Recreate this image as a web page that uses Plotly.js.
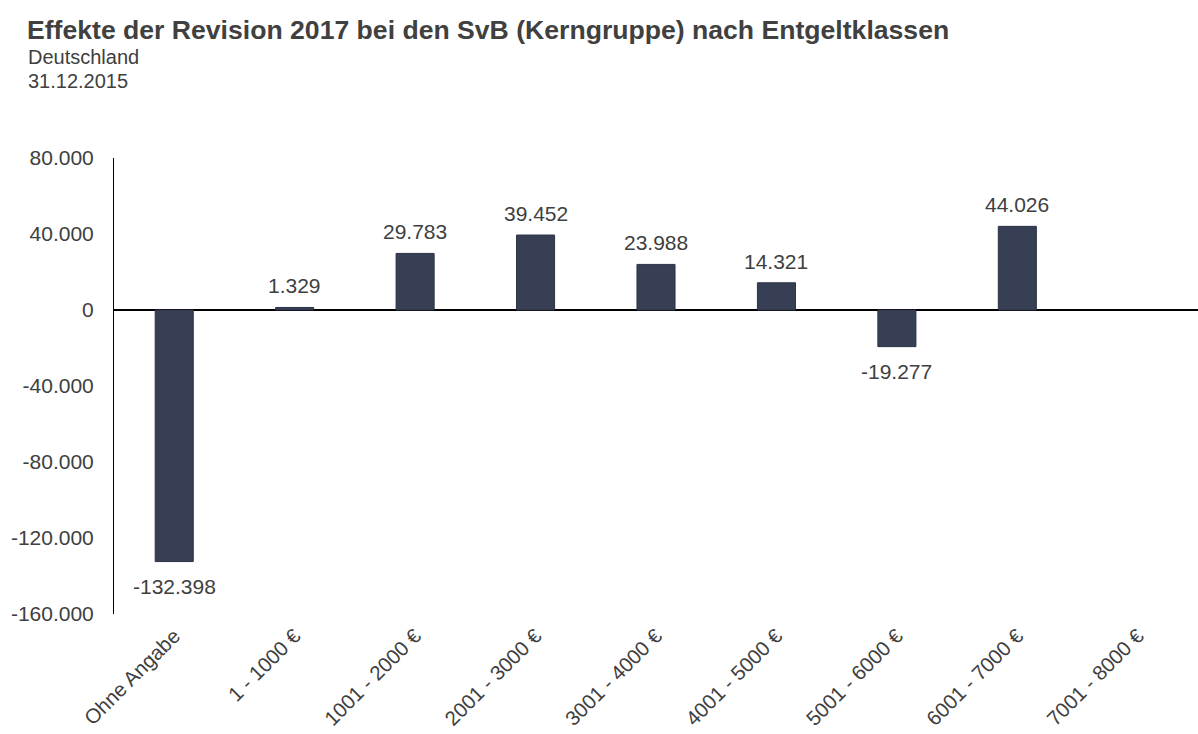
<!DOCTYPE html>
<html>
<head>
<meta charset="utf-8">
<script src="https://cdn.plot.ly/plotly-3.0.1.min.js"></script>
<style>html,body{margin:0;padding:0;background:#fff;}#chart{width:1198px;height:734px;}</style>
</head>
<body>
<div id="chart"></div>
<script>
const categories = ["Ohne Angabe", "1 - 1000 €", "1001 - 2000 €", "2001 - 3000 €", "3001 - 4000 €", "4001 - 5000 €", "5001 - 6000 €", "6001 - 7000 €", "7001 - 8000 €"];
const values = [-132398, 1329, 29783, 39452, 23988, 14321, -19277, 44026, null];
const yTicks = [-160000, -120000, -80000, -40000, 0, 40000, 80000];
const titleText = "Effekte der Revision 2017 bei den SvB (Kerngruppe) nach Entgeltklassen";
const subtitleLines = ["Deutschland", "31.12.2015"];

function fmt(v) {
  const s = Math.abs(v).toString().replace(/\B(?=(\d{3})+(?!\d))/g, ".");
  return (v < 0 ? "-" : "") + s;
}

const FONT = "Liberation Sans, Arial, sans-serif";
const TXT = "#404040";

const labelAnnotations = [];
categories.forEach((c, i) => {
  const v = values[i];
  if (v === null || v === undefined) return;
  labelAnnotations.push({
    x: c, y: v, xref: "x", yref: "y",
    text: fmt(v), showarrow: false,
    yanchor: v >= 0 ? "bottom" : "top",
    yshift: v >= 0 ? 8 : -11,
    font: {family: FONT, size: 21, color: TXT}
  });
});

// paper coords: plot area x 114..1198 (1084px), y 158..614 (456px)
function px2x(px) { return (px - 114) / 1084; }
function py2y(py) { return (614 - py) / 456; }

const headerAnnotations = [
  {xref: "paper", yref: "paper", x: px2x(25), y: py2y(30), xanchor: "left", yanchor: "middle",
   text: "<b>" + titleText + "</b>", showarrow: false, font: {family: FONT, size: 26.6, color: TXT}},
  {xref: "paper", yref: "paper", x: px2x(26), y: py2y(57), xanchor: "left", yanchor: "middle",
   text: subtitleLines[0], showarrow: false, font: {family: FONT, size: 20, color: TXT}},
  {xref: "paper", yref: "paper", x: px2x(26), y: py2y(81), xanchor: "left", yanchor: "middle",
   text: subtitleLines[1], showarrow: false, font: {family: FONT, size: 20, color: TXT}}
];

const trace = {
  type: "bar",
  x: categories,
  y: values,
  marker: {color: "#373f55", line: {color: "#2c3346", width: 1}},
  hoverinfo: "none"
};

const layout = {
  width: 1198, height: 734,
  margin: {l: 114, r: 0, t: 158, b: 120, pad: 0},
  paper_bgcolor: "#ffffff", plot_bgcolor: "#ffffff",
  separators: ",.",
  showlegend: false,
  bargap: 0.684,
  font: {family: FONT, size: 21, color: TXT},
  xaxis: {
    type: "category",
    showgrid: false, showline: false, zeroline: false,
    ticks: "", tickangle: -45, ticklabelstandoff: 5,
    tickfont: {family: FONT, size: 20.5, color: TXT},
    automargin: false
  },
  yaxis: {
    range: [-160000, 80000],
    tickvals: yTicks,
    ticktext: yTicks.map(fmt),
    showgrid: false,
    showline: true, linecolor: "#000000", linewidth: 1,
    zeroline: true, zerolinecolor: "#000000", zerolinewidth: 2,
    ticks: "", ticklabelstandoff: 15,
    tickfont: {family: FONT, size: 21, color: TXT},
    automargin: false
  },
  annotations: headerAnnotations.concat(labelAnnotations)
};

Plotly.newPlot("chart", [trace], layout, {displayModeBar: false, staticPlot: true});
</script>
</body>
</html>
